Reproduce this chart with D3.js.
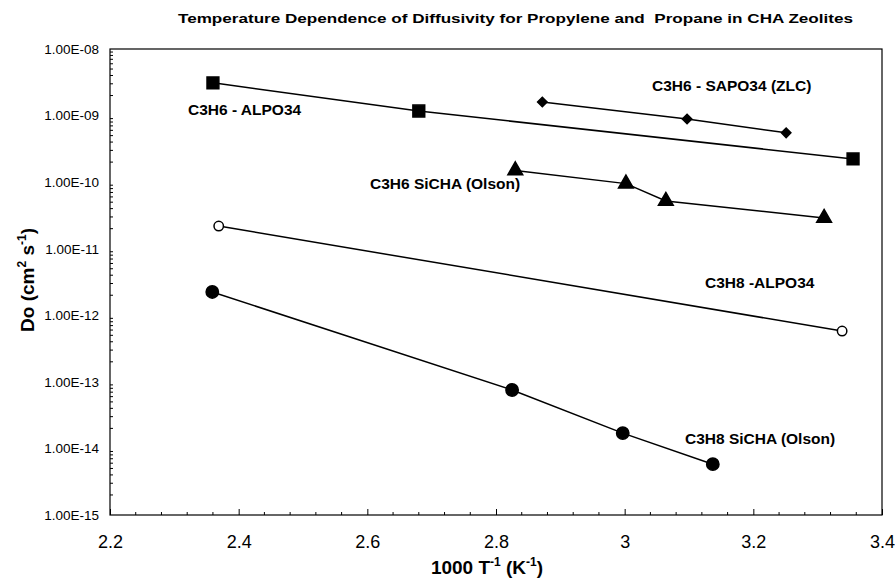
<!DOCTYPE html>
<html><head><meta charset="utf-8">
<script src="https://cdn.jsdelivr.net/npm/d3@7"></script>
<style>body{margin:0;background:#fff}svg{display:block}text{font-family:"Liberation Sans",Arial,sans-serif;fill:#000}</style>
</head><body><svg id="c" width="895" height="580"></svg>
<script>
// ---- data ----
const xTicks = [2.2, 2.4, 2.6, 2.8, 3.0, 3.2, 3.4];
const xTickLabels = ["2.2", "2.4", "2.6", "2.8", "3", "3.2", "3.4"];
const yTicks = [1e-8, 1e-9, 1e-10, 1e-11, 1e-12, 1e-13, 1e-14, 1e-15];
const yTickLabels = ["1.00E-08","1.00E-09","1.00E-10","1.00E-11","1.00E-12","1.00E-13","1.00E-14","1.00E-15"];

const c3h6AlpoX = [2.36, 2.68, 3.355];
const c3h6AlpoY = [3.1e-9, 1.17e-9, 2.23e-10];
const c3h6SapoX = [2.872, 3.097, 3.251];
const c3h6SapoY = [1.6e-9, 8.9e-10, 5.5e-10];
const c3h6SichaX = [2.83, 3.002, 3.064, 3.31];
const c3h6SichaY = [1.5e-10, 9.5e-11, 5.2e-11, 2.9e-11];
const c3h8AlpoX = [2.369, 3.338];
const c3h8AlpoY = [2.19e-11, 5.8e-13];
const c3h8SichaX = [2.359, 2.825, 2.997, 3.137];
const c3h8SichaY = [2.24e-12, 7.55e-14, 1.7e-14, 5.8e-15];

const seriesNames = ["C3H6 - ALPO34", "C3H6 - SAPO34 (ZLC)", "C3H6 SiCHA (Olson)", "C3H8 -ALPO34", "C3H8 SiCHA (Olson)"];

// ---- layout ----
const L = 110, R = 882, T = 49, B = 515;
const svg = d3.select("#c");
const x = d3.scaleLinear().domain([2.2, 3.4]).range([L, R]);
const y = d3.scaleLog().domain([1e-15, 1e-8]).range([B, T]);

// title
svg.append("text").attr("x", 178).attr("y", 23)
  .attr("font-size", 13).attr("font-weight", "bold")
  .attr("textLength", 675).attr("lengthAdjust", "spacingAndGlyphs")
  .text("Temperature Dependence of Diffusivity for Propylene and\u00a0 Propane in CHA Zeolites");

// frame
svg.append("rect").attr("x", L).attr("y", T).attr("width", R - L).attr("height", B - T)
  .attr("fill", "none").attr("stroke", "#000").attr("stroke-width", 1.2);

// x axis (ticks inside)
const xAxis = d3.axisBottom(x).tickValues(xTicks).tickSize(-6).tickFormat((d, i) => xTickLabels[i]).tickPadding(20);
const gx = svg.append("g").attr("transform", `translate(0,${B})`).call(xAxis);
gx.select(".domain").remove();
gx.selectAll("text").attr("font-size", 18).attr("font-family", "Liberation Sans, Arial, sans-serif").attr("fill", "#000");
const xMinor = d3.range(2.2, 3.4001, 0.04).filter(v => Math.abs((v - 2.2) / 0.2 - Math.round((v - 2.2) / 0.2)) > 0.01);
svg.append("g").selectAll("line").data(xMinor).join("line")
  .attr("x1", d => x(d)).attr("x2", d => x(d)).attr("y1", B).attr("y2", B - 3).attr("stroke", "#000");

// y axis
const yAxis = d3.axisLeft(y).tickValues(yTicks).tickSize(0).tickPadding(11).tickFormat((d, i) => yTickLabels[i]);
const gy = svg.append("g").attr("transform", `translate(${L},0)`).call(yAxis);
gy.select(".domain").remove();
gy.selectAll("text").attr("font-size", 13.5).attr("font-family", "Liberation Sans, Arial, sans-serif").attr("fill", "#000");
const yMinor = [];
for (let e = -15; e < -8; e++) for (let m = 2; m <= 9; m++) yMinor.push(m * Math.pow(10, e));
svg.append("g").selectAll("line").data(yMinor).join("line")
  .attr("x1", L).attr("x2", L + 3).attr("y1", d => y(d)).attr("y2", d => y(d)).attr("stroke", "#000");

// axis titles
const xt = svg.append("text").attr("x", 487).attr("y", 574).attr("text-anchor", "middle")
  .attr("font-size", 19).attr("font-weight", "bold");
xt.append("tspan").text("1000 T");
xt.append("tspan").attr("dy", -8).attr("font-size", 12).text("-1");
xt.append("tspan").attr("dy", 8).text(" (K");
xt.append("tspan").attr("dy", -8).attr("font-size", 12).text("-1");
xt.append("tspan").attr("dy", 8).text(")");

const yt = svg.append("text").attr("transform", "translate(34,280) rotate(-90)").attr("text-anchor", "middle")
  .attr("font-size", 19).attr("font-weight", "bold");
yt.append("tspan").text("Do (cm");
yt.append("tspan").attr("dy", -8).attr("font-size", 12).text("2");
yt.append("tspan").attr("dy", 8).text(" s");
yt.append("tspan").attr("dy", -8).attr("font-size", 12).text("-1");
yt.append("tspan").attr("dy", 8).text(")");

// series
const line = d3.line().x(d => x(d[0])).y(d => y(d[1]));
function zip(a, b) { return a.map((v, i) => [v, b[i]]); }
const series = [
  { pts: zip(c3h6AlpoX, c3h6AlpoY), sym: d3.symbolSquare, size: 140, fill: "#000", rot: 0 },
  { pts: zip(c3h6SapoX, c3h6SapoY), sym: d3.symbolSquare, size: 45, fill: "#000", rot: 45 },
  { pts: zip(c3h6SichaX, c3h6SichaY), sym: d3.symbolTriangle, size: 95, fill: "#000", rot: 0 },
  { pts: zip(c3h8AlpoX, c3h8AlpoY), sym: d3.symbolCircle, size: 70, fill: "#fff", rot: 0 },
  { pts: zip(c3h8SichaX, c3h8SichaY), sym: d3.symbolCircle, size: 120, fill: "#000", rot: 0 }
];
series.forEach(s => {
  svg.append("path").attr("d", line(s.pts)).attr("fill", "none").attr("stroke", "#000").attr("stroke-width", 1.5);
  svg.append("g").selectAll("path").data(s.pts).join("path")
    .attr("transform", d => `translate(${x(d[0])},${y(d[1])}) rotate(${s.rot})`)
    .attr("d", d3.symbol().type(s.sym).size(s.size)())
    .attr("fill", s.fill).attr("stroke", "#000").attr("stroke-width", 1.5);
});

// labels
const labelPos = [[188, 115], [652, 91], [370, 189], [705, 288], [685, 444]];
seriesNames.forEach((n, i) => {
  svg.append("text").attr("x", labelPos[i][0]).attr("y", labelPos[i][1])
    .attr("font-size", 15.5).attr("font-weight", "bold").text(n);
});
</script></body></html>
